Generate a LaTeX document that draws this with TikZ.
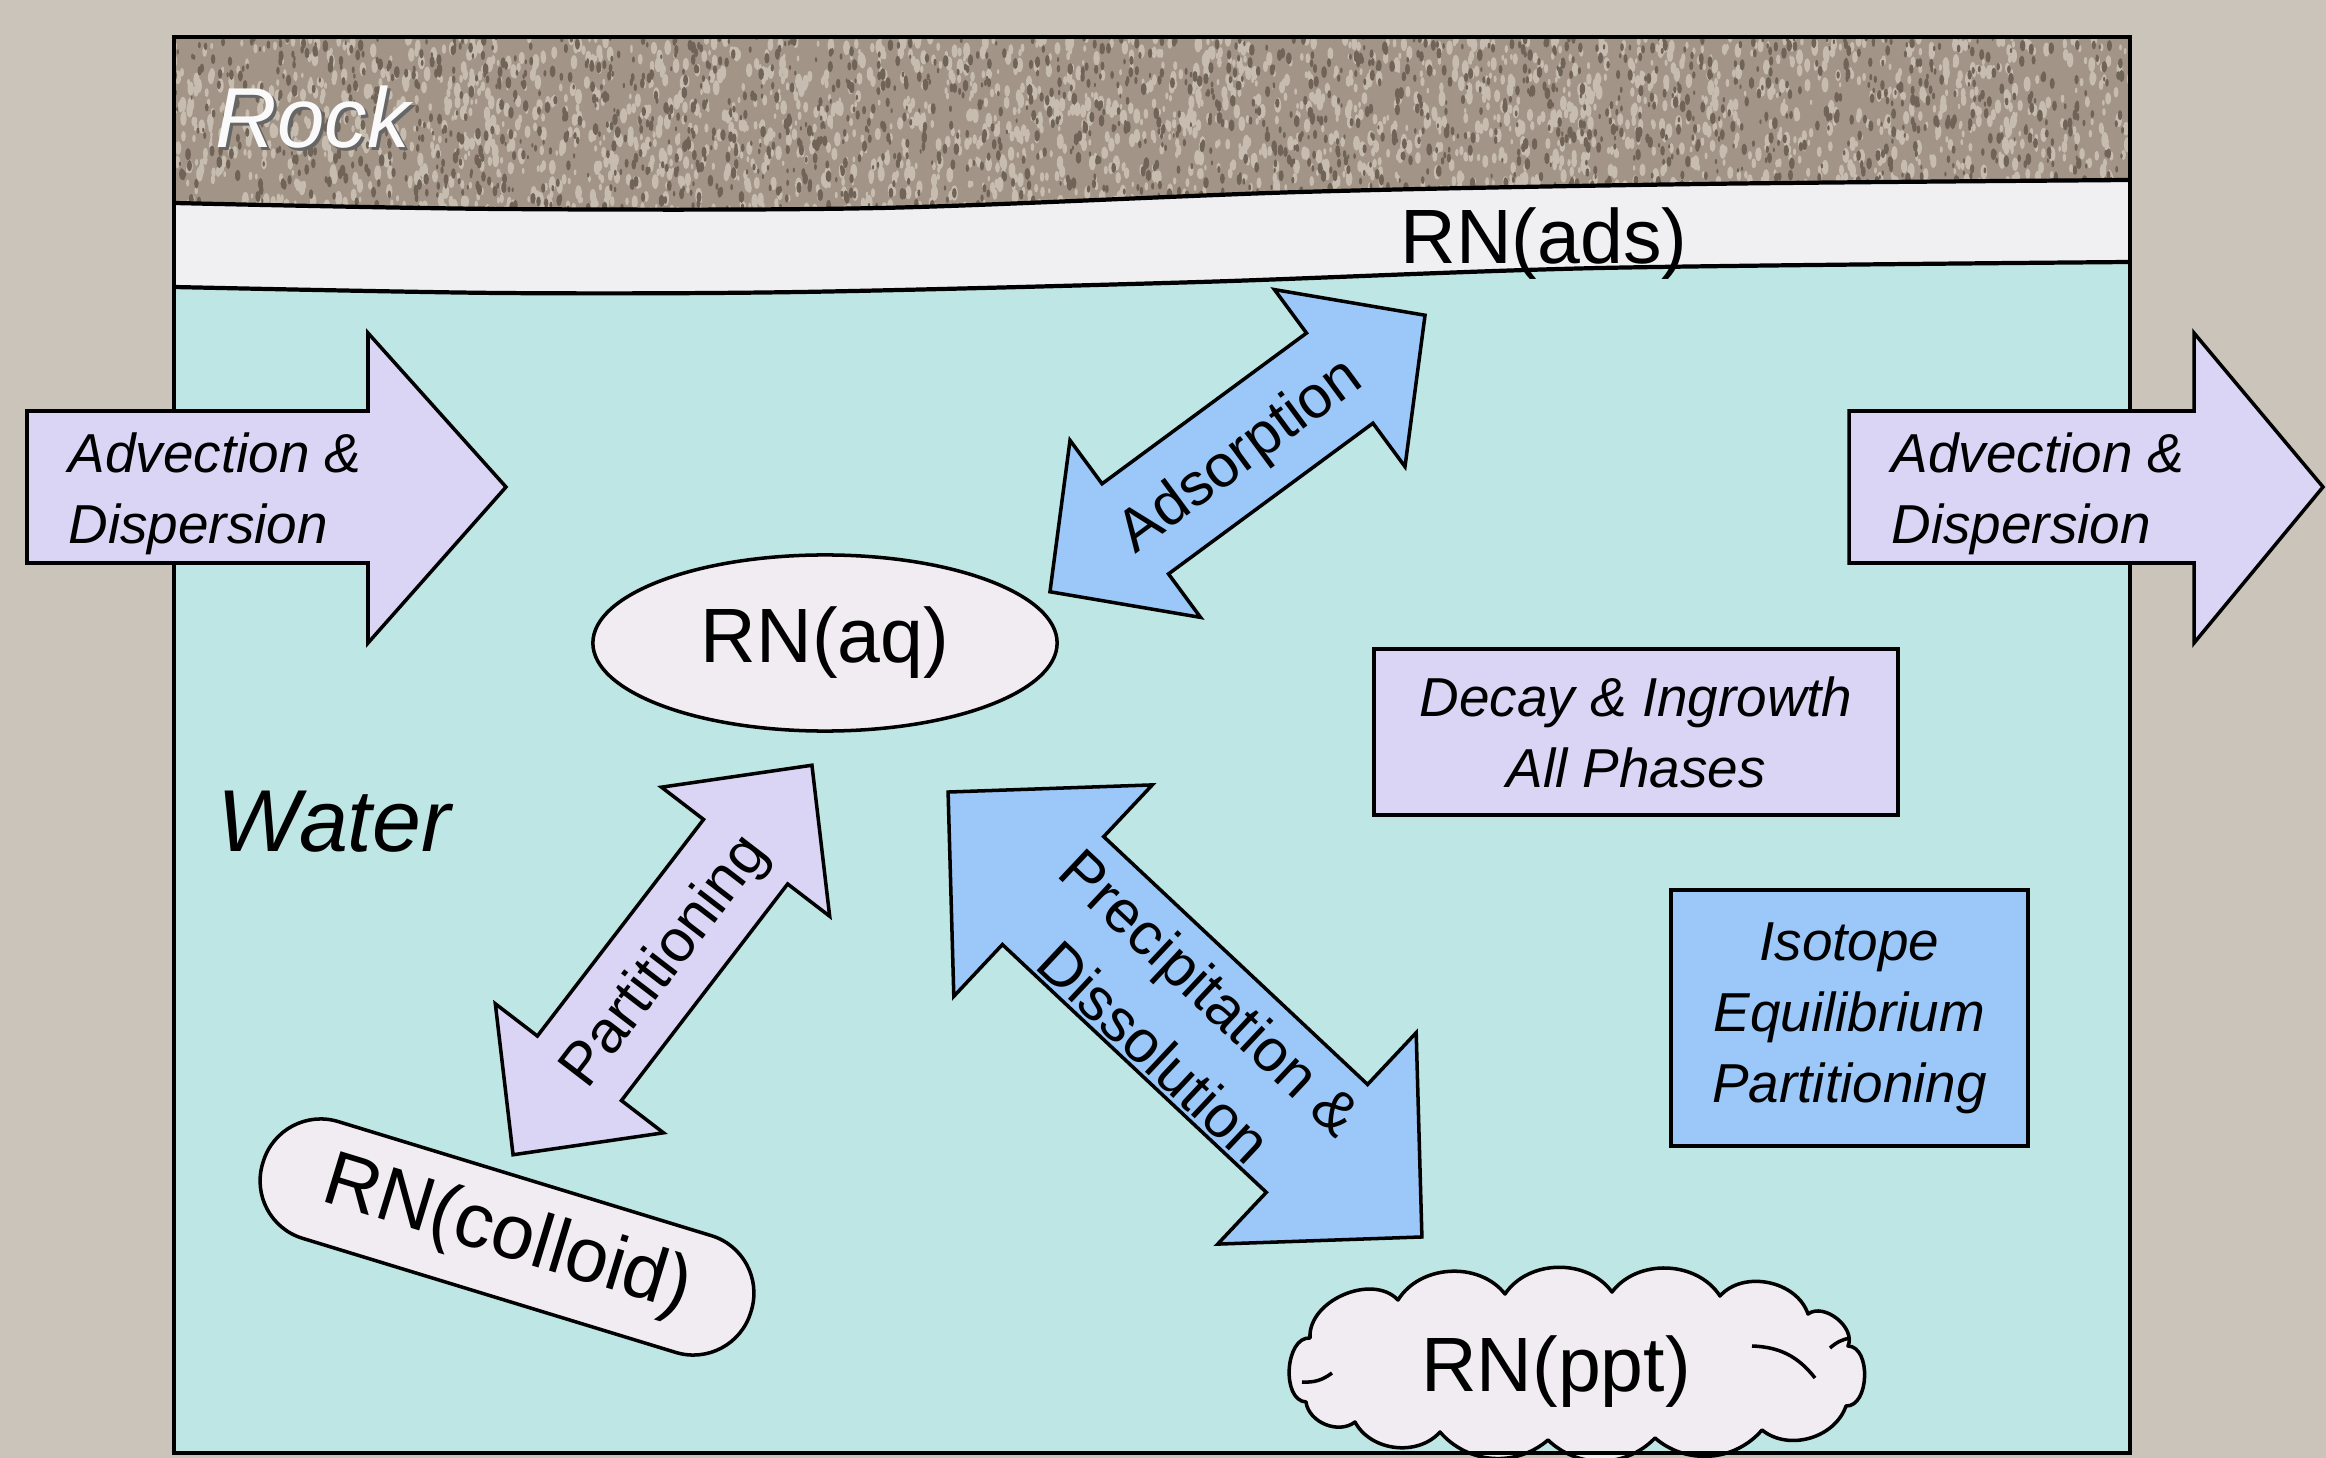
\documentclass[tikz,border=0pt]{standalone}
\usepackage{fontspec}
\setmainfont{Liberation Sans}
\usetikzlibrary{shapes.geometric}
\definecolor{bgc}{RGB}{203,196,187}
\definecolor{waterc}{RGB}{190,230,228}
\definecolor{adsc}{RGB}{240,240,243}
\definecolor{rockc}{RGB}{162,148,134}
\definecolor{rocklight}{RGB}{198,188,176}
\definecolor{rockdark}{RGB}{112,99,87}
\definecolor{lav}{RGB}{218,213,244}
\definecolor{bluec}{RGB}{155,200,248}
\definecolor{paleC}{RGB}{240,236,242}
\begin{document}
\begin{tikzpicture}[x=0.01cm,y=-0.01cm,
  outl/.style={draw=black,line width=1pt,line join=miter},
  lblfont/.style={font=\fontsize{15.6pt}{20.2pt}\selectfont\itshape},
  arrfont/.style={font=\fontsize{17pt}{23.3pt}\selectfont},
  rnfont/.style={font=\fontsize{21.9pt}{26pt}\selectfont},
  rockfont/.style={font=\fontsize{24.2pt}{28pt}\selectfont\itshape},
  pics/dblarr/.style n args={5}{code={
    \filldraw[fill=#5,draw=black,line width=1pt,line join=miter]
      (-#1,0) -- (-#1+#2,-#3) -- (-#1+#2,-#4) -- (#1-#2,-#4) -- (#1-#2,-#3) -- (#1,0)
      -- (#1-#2,#3) -- (#1-#2,#4) -- (-#1+#2,#4) -- (-#1+#2,#3) -- cycle;
  }}
]
\useasboundingbox (0,0) rectangle (2326,1458);
\fill[bgc] (0,0) rectangle (2326,1458);
% water
\fill[waterc] (174,37) rectangle (2130,1453);
% adsorbed layer
\fill[adsc] (174,37) -- (2130,37) -- plot[smooth] coordinates {(2130,262) (1600,268) (1200,282) (800,292) (500,293) (174,287)} -- cycle;
% rock
\begin{scope}
\clip (174,37) -- (2130,37) -- plot[smooth] coordinates {(2130,180) (1700,184) (1300,192) (880,208) (500,209) (174,203)} -- cycle;
\fill[rockc] (174,37) rectangle (2130,220);
\pgfmathsetseed{7}
\foreach \i in {1,...,2600}{
  \pgfmathsetmacro\xx{174+1956*rnd}
  \pgfmathsetmacro\yy{37+185*rnd}
  \pgfmathsetmacro\rr{1.2+2.3*rnd}
  \fill[rocklight] (\xx,\yy) ellipse[x radius=\rr, y radius=2.2*\rr];
}
\foreach \i in {1,...,1900}{
  \pgfmathsetmacro\xx{174+1956*rnd}
  \pgfmathsetmacro\yy{37+185*rnd}
  \pgfmathsetmacro\rr{1+1.8*rnd}
  \fill[rockdark] (\xx,\yy) ellipse[x radius=\rr, y radius=2.2*\rr];
}
\end{scope}
\draw[line width=1.2pt] plot[smooth] coordinates {(174,203) (500,209) (880,208) (1300,192) (1700,184) (2130,180)};
\draw[line width=1.2pt] plot[smooth] coordinates {(174,287) (500,293) (800,292) (1200,282) (1600,268) (2130,262)};
% labels of layers
\node[rockfont, text=black!60, anchor=base west, inner sep=0] (rockshadow) at (218,151) {Rock};
\node[rockfont, text=white!96!gray, anchor=base west, inner sep=0] (rock) at (215,148) {Rock};
\node[rnfont, anchor=base, inner sep=0] (ads) at (1544,264) {RN(ads)};
\node[font=\fontsize{25pt}{30pt}\selectfont\itshape, anchor=base west, inner sep=0] (water) at (217,852) {Water};
% species
\node[ellipse, outl, fill=paleC, minimum width=4.64cm, minimum height=1.76cm, inner sep=0, rnfont] (aq) at (825,643) {RN(aq)};
\node[rectangle, rounded corners=0.6cm, outl, fill=paleC, minimum width=5.1cm, minimum height=1.22cm, rotate=-17, rnfont, inner sep=0] (colloid) at (507,1237) {RN(colloid)};
% cloud
\filldraw[fill=paleC, draw=black, line width=1pt, line join=round]
  (1306,1402) to[bend left=90] (1310,1338)
  to[bend left=70] (1398,1300)
  to[bend left=55] (1505,1294)
  to[bend left=55] (1612,1292)
  to[bend left=55] (1720,1296)
  to[bend left=60] (1808,1314)
  to[bend left=75] (1848,1346)
  to[bend left=90] (1846,1406)
  to[bend left=55] (1762,1430)
  to[bend left=45] (1655,1438)
  to[bend left=45] (1548,1440)
  to[bend left=45] (1440,1432)
  to[bend left=55] (1355,1422)
  to[bend left=60] cycle;
\node[rnfont, inner sep=0] (ppt) at (1556,1372) {RN(ppt)};
\draw[line width=1pt] (1302,1382) to[bend right=20] (1332,1373);
\draw[line width=1pt] (1752,1346) to[bend left=25] (1815,1378);
\draw[line width=1pt] (1830,1348) to[bend left=15] (1850,1338);
% boxes
\node[rectangle, outl, fill=lav, minimum width=5.24cm, minimum height=1.66cm, inner sep=0, align=center, lblfont] (decay) at (1636,732) {Decay \& Ingrowth\\All Phases};
\node[rectangle, outl, fill=bluec, minimum width=3.57cm, minimum height=2.56cm, inner sep=0, align=center, lblfont] (iso) at (1849.5,1018) {Isotope\\Equilibrium\\Partitioning};
% double arrows
\pic[rotate=36.4] at (1237.5,453.5) {dblarr={233}{106}{110}{56}{bluec}};
\node[arrfont, rotate=36.4, inner sep=0] (adsLbl) at (1241,457) {Adsorption};
\pic[rotate=52.5] at (662.5,960) {dblarr={245.5}{109}{106}{53}{lav}};
\node[arrfont, rotate=52.5, inner sep=0] (partLbl) at (666,962) {Partitioning};
\pic[rotate=-43.2] at (1185,1014.5) {dblarr={325}{144}{145}{74}{bluec}};
\node[arrfont, rotate=-43.2, align=center, inner sep=0] (precLbl) at (1183,1022) {Precipitation \&\\Dissolution};
% frame
\draw[line width=1.3pt] (174,37) rectangle (2130,1453);
% advection arrows
\draw[outl, fill=lav] (27,411) -- (368,411) -- (368,333) -- (506,487) -- (368,643) -- (368,563) -- (27,563) -- cycle;
\node[lblfont, align=left, anchor=west, inner sep=0] (advL) at (68,494) {Advection \&\\Dispersion};
\draw[outl, fill=lav] (1849,411) -- (2194,411) -- (2194,333) -- (2323,487) -- (2194,643) -- (2194,563) -- (1849,563) -- cycle;
\node[lblfont, align=left, anchor=west, inner sep=0] (advR) at (1891,494) {Advection \&\\Dispersion};
\end{tikzpicture}
\end{document}
